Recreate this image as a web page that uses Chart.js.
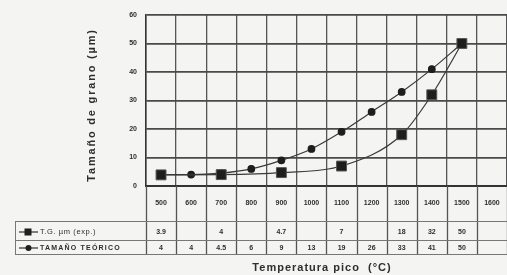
<!DOCTYPE html>
<html>
<head>
<meta charset="utf-8">
<script src="https://cdn.jsdelivr.net/npm/chart.js@4.4.0/dist/chart.umd.js"></script>
<style>
  html, body { margin: 0; padding: 0; background: #f4f4f3; }
  #wrap { width: 507px; height: 275px; position: relative; }
</style>
</head>
<body>
<div id="wrap"><canvas id="chart" width="507" height="275"></canvas></div>
<script>
// datos
const categories = ['500', '600', '700', '800', '900', '1000', '1100', '1200', '1300', '1400', '1500', '1600'];
const expValues = [3.9, null, 4, null, 4.7, null, 7, null, 18, 32, 50, null];
const theoValues = [4, 4, 4.5, 6, 9, 13, 19, 26, 33, 41, 50, null];
const expName = 'T.G. µm (exp.)';
const theoName = 'TAMAÑO TEÓRICO';
const yMin = 0, yMax = 60, yStep = 10;

const FONT = "'Liberation Sans', Arial, sans-serif";
const INK = '#2e2e2e';

// tabla de datos bajo el eje x (estilo Excel)
const tablePlugin = {
  id: 'dataTable',
  afterDraw(chart) {
    const ctx = chart.ctx;
    const xs = chart.scales.x;
    const area = chart.chartArea;
    const half = (xs.getPixelForValue(1) - xs.getPixelForValue(0)) / 2;
    const rowExp = 232, rowTheo = 248, tableBottom = 254, boxLeft = 15;

    ctx.save();
    ctx.strokeStyle = '#555';
    ctx.lineWidth = 1.3;
    // verticales de la tabla
    for (let i = 0; i <= categories.length; i++) {
      const px = Math.round(xs.getPixelForValue(i) - half) + 0.5;
      ctx.beginPath();
      ctx.moveTo(px, area.bottom);
      ctx.lineTo(px, tableBottom);
      ctx.stroke();
    }
    // horizontales
    ctx.lineWidth = 1;
    ctx.strokeStyle = '#777';
    [[221, boxLeft], [240, boxLeft], [tableBottom, boxLeft]].forEach(([y, x0]) => {
      ctx.beginPath();
      ctx.moveTo(x0, y + 0.5);
      ctx.lineTo(area.right, y + 0.5);
      ctx.stroke();
    });
    ctx.beginPath();
    ctx.moveTo(boxLeft + 0.5, 221);
    ctx.lineTo(boxLeft + 0.5, tableBottom);
    ctx.stroke();

    // valores
    ctx.fillStyle = INK;
    ctx.font = 'bold 7px ' + FONT;
    ctx.textAlign = 'center';
    ctx.textBaseline = 'middle';
    categories.forEach((c, i) => {
      const px = xs.getPixelForValue(i);
      if (expValues[i] != null) ctx.fillText(String(expValues[i]), px, rowExp);
      if (theoValues[i] != null) ctx.fillText(String(theoValues[i]), px, rowTheo);
    });

    // leyenda
    ctx.strokeStyle = INK;
    ctx.lineWidth = 1.2;
    [[rowExp, 'rect'], [rowTheo, 'circle']].forEach(([y, shape]) => {
      ctx.beginPath();
      ctx.moveTo(19, y);
      ctx.lineTo(38, y);
      ctx.stroke();
      ctx.fillStyle = '#1e1e1e';
      ctx.beginPath();
      if (shape === 'rect') ctx.rect(24.5, y - 3.5, 7, 7);
      else ctx.arc(28.5, y, 3, 0, Math.PI * 2);
      ctx.fill();
    });
    ctx.fillStyle = INK;
    ctx.textAlign = 'left';
    ctx.font = '7.5px ' + FONT;
    ctx.letterSpacing = '0.6px';
    ctx.fillText(expName, 40, rowExp);
    ctx.font = 'bold 7px ' + FONT;
    ctx.letterSpacing = '1.2px';
    ctx.fillText(theoName, 40, rowTheo);

    // títulos de los ejes
    ctx.font = 'bold 11px ' + FONT;
    ctx.letterSpacing = '1px';
    ctx.textAlign = 'center';
    ctx.fillText('Temperatura pico  (°C)', 322, 268);

    ctx.translate(92, 105);
    ctx.rotate(-Math.PI / 2);
    ctx.letterSpacing = '1.8px';
    ctx.fillText('Tamaño de grano (µm)', 0, 0);
    ctx.restore();
  }
};

new Chart(document.getElementById('chart'), {
  type: 'line',
  data: {
    labels: categories,
    datasets: [{
      label: expName,
      data: expValues,
      spanGaps: true,
      borderColor: '#3a3a3a',
      borderWidth: 1.2,
      pointStyle: 'rect',
      pointRadius: 7,
      pointBackgroundColor: '#1e1e1e',
      pointBorderColor: '#555',
      pointBorderWidth: 1,
      cubicInterpolationMode: 'monotone'
    }, {
      label: theoName,
      data: theoValues,
      borderColor: '#3a3a3a',
      borderWidth: 1.2,
      pointStyle: 'circle',
      pointRadius: 3.3,
      pointBackgroundColor: '#1e1e1e',
      pointBorderColor: '#1e1e1e',
      cubicInterpolationMode: 'monotone'
    }]
  },
  options: {
    responsive: false,
    animation: false,
    layout: { autoPadding: false, padding: { left: 0, right: 0, top: 15, bottom: 0 } },
    plugins: { legend: { display: false }, tooltip: { enabled: false } },
    scales: {
      x: {
        offset: true,
        grid: { offset: true, color: '#555', lineWidth: 1.3, drawTicks: false },
        border: { color: '#333', width: 2 },
        ticks: { color: INK, font: { family: FONT, size: 7, weight: 'bold' }, padding: 13, maxRotation: 0, autoSkip: false },
        afterFit(scale) {
          scale.height = 89;
          scale.paddingLeft = 0;
          scale.paddingRight = 0;
        }
      },
      y: {
        min: yMin,
        max: yMax,
        ticks: { stepSize: yStep, color: INK, font: { family: FONT, size: 7, weight: 'bold' }, padding: 9 },
        grid: { color: '#4a4a4a', lineWidth: 1.8, drawTicks: false },
        border: { color: '#333', width: 1.5 },
        afterFit(scale) { scale.width = 146; }
      }
    }
  },
  plugins: [tablePlugin]
});
</script>
</body>
</html>
